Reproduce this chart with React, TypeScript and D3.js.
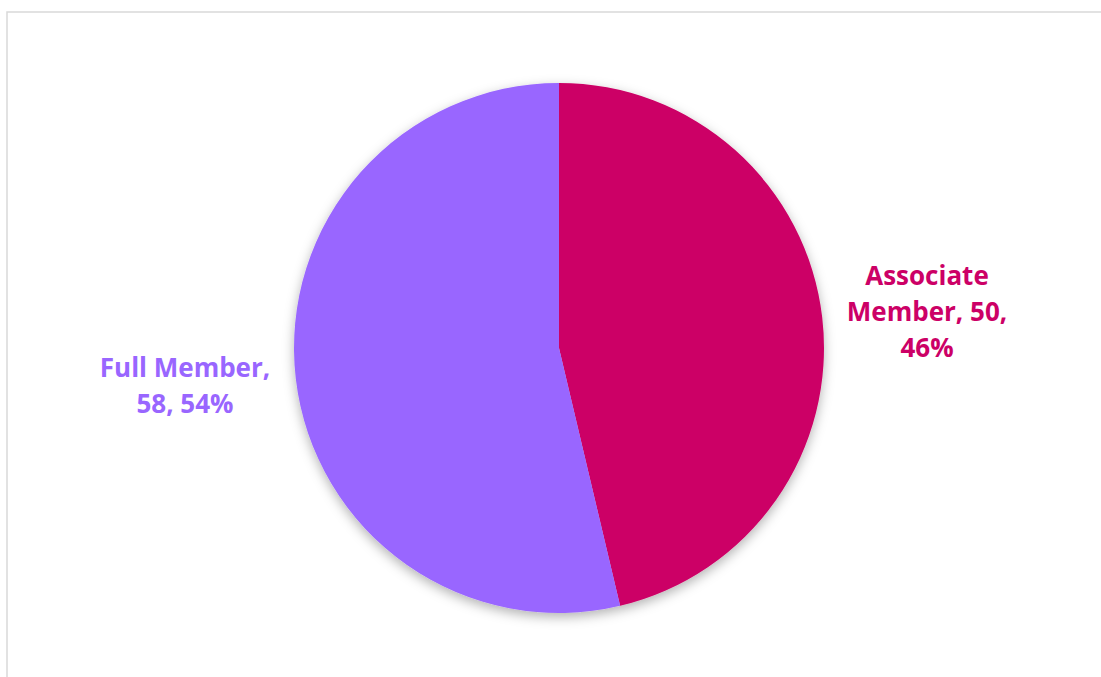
import React from "react";
import * as d3 from "d3";

const categories = ["Associate Member", "Full Member"];
const values = [50, 58];
const percents = ["46%", "54%"];
const colors = ["#CC0066", "#9966FF"];

const W = 1101;
const H = 677;
const cx = 559;
const cy = 348;
const R = 265;

export default function App() {
  const pie = d3.pie<number>().sort(null).value((d) => d)(values);
  const arc = d3.arc<d3.PieArcDatum<number>>().innerRadius(0).outerRadius(R);
  const labelLines = [
    { x: 927, y: 285, lines: ["Associate", `Member, ${values[0]},`, percents[0]] },
    { x: 185, y: 377, lines: ["Full Member,", `${values[1]}, ${percents[1]}`] },
  ];
  return (
    <svg
      width={W}
      height={H}
      style={{ position: "absolute", left: 0, top: 0, background: "#fff" }}
    >
      <defs>
        <filter id="sh" x="-20%" y="-20%" width="140%" height="140%">
          <feDropShadow dx="0" dy="4" stdDeviation="6" floodColor="#000" floodOpacity="0.3" />
        </filter>
      </defs>
      <rect x={7} y={12} width={W} height={H} fill="#fff" stroke="#d9d9d9" strokeWidth={1.5} />
      <g transform={`translate(${cx},${cy})`} filter="url(#sh)">
        {pie.map((p, i) => (
          <path key={categories[i]} d={arc(p) || ""} fill={colors[i]} />
        ))}
      </g>
      {labelLines.map((l, i) => (
        <text
          key={i}
          x={l.x}
          y={l.y}
          textAnchor="middle"
          fill={colors[i]}
          fontFamily="'Open Sans', sans-serif"
          fontWeight={700}
          fontSize={26}
        >
          {l.lines.map((t, j) => (
            <tspan key={j} x={l.x} dy={j === 0 ? 0 : 36}>
              {t}
            </tspan>
          ))}
        </text>
      ))}
    </svg>
  );
}
